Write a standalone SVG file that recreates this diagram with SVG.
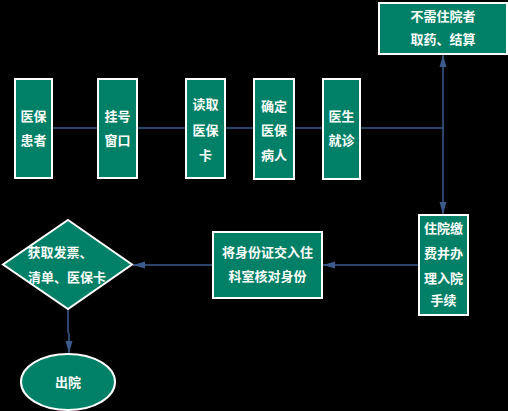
<svg xmlns="http://www.w3.org/2000/svg" width="508" height="411" viewBox="0 0 508 411">
<defs>
<marker id="ah" viewBox="0 0 12 8" refX="12" refY="4" markerWidth="12" markerHeight="8" orient="auto" markerUnits="userSpaceOnUse">
<path d="M0,0.5 L12,4 L0,7.5 z" fill="#3a5b8c"/>
</marker>
<style>
.n{fill:#008066;stroke:#ffffff;stroke-width:2}
.t{fill:#ffffff;font-family:"Noto Sans CJK SC","Noto Sans",sans-serif;font-size:13px;font-weight:bold;text-anchor:middle}
.c{fill:none;stroke:#3a5b8c;stroke-width:1.5}
</style>
</defs>
<rect width="508" height="411" fill="#000000"/>
<g id="connectors">
<line class="c" x1="52" y1="128" x2="443" y2="128" stroke-width="1"/>
<line class="c" x1="443" y1="128" x2="443" y2="55" marker-end="url(#ah)"/>
<line class="c" x1="443" y1="128" x2="443" y2="214" marker-end="url(#ah)"/>
<line class="c" x1="419" y1="265" x2="323" y2="265" marker-end="url(#ah)"/>
<line class="c" x1="213" y1="265" x2="133" y2="265" marker-end="url(#ah)"/>
<polyline class="c" points="68,309 68,332 69,334 69,353" marker-end="url(#ah)"/>
</g>
<g id="n1"><rect class="n" x="15" y="79" width="37" height="99"/><text class="t" x="33.5" y="121">医保</text><text class="t" x="33.5" y="145">患者</text></g>
<g id="n2"><rect class="n" x="98" y="79" width="39" height="99"/><text class="t" x="117.5" y="121">挂号</text><text class="t" x="117.5" y="145">窗口</text></g>
<g id="n3"><rect class="n" x="186" y="79" width="39" height="99"/><text class="t" x="205.5" y="109">读取</text><text class="t" x="205.5" y="135">医保</text><text class="t" x="205.5" y="160">卡</text></g>
<g id="n4"><rect class="n" x="254" y="79" width="40" height="100"/><text class="t" x="274" y="111">确定</text><text class="t" x="274" y="135">医保</text><text class="t" x="274" y="160">病人</text></g>
<g id="n5"><rect class="n" x="323" y="79" width="37" height="100"/><text class="t" x="341.5" y="121">医生</text><text class="t" x="341.5" y="145">就诊</text></g>
<g id="n6"><rect class="n" x="379" y="3" width="128" height="51"/><text class="t" x="443" y="21">不需住院者</text><text class="t" x="443" y="44">取药、结算</text></g>
<g id="n7"><rect class="n" x="419" y="215" width="49" height="100"/><text class="t" x="443.5" y="233">住院缴</text><text class="t" x="443.5" y="258">费并办</text><text class="t" x="443.5" y="283">理入院</text><text class="t" x="443.5" y="305">手续</text></g>
<g id="n8"><rect class="n" x="213" y="232" width="109" height="66"/><text class="t" x="267.5" y="257">将身份证交入住</text><text class="t" x="267.5" y="281">科室核对身份</text></g>
<g id="n9"><polygon class="n" points="68,220 132,264.5 68,309 3,264.5"/><text class="t" x="60" y="257">获取发票、</text><text class="t" x="67" y="282">清单、医保卡</text></g>
<g id="n10"><ellipse class="n" cx="68" cy="382" rx="47" ry="28"/><text class="t" x="68" y="387">出院</text></g>
</svg>
